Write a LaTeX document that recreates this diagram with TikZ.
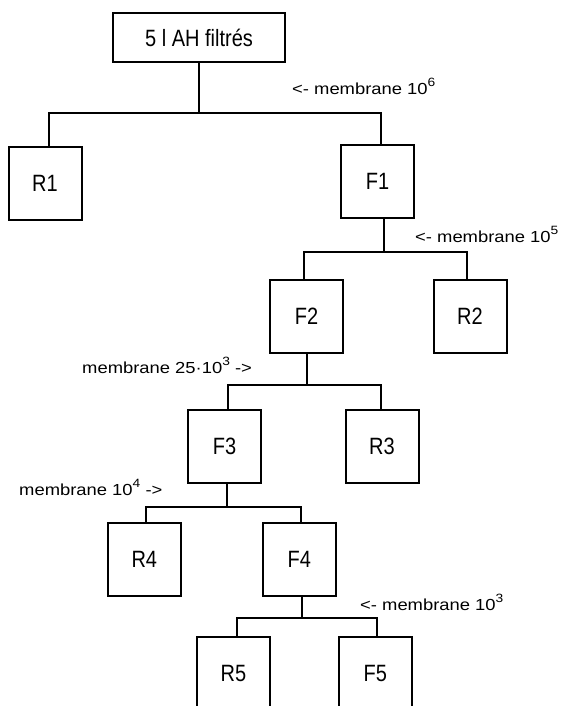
\documentclass[tikz,border=0pt]{standalone}
\usepackage{fontspec}
\usepackage{graphicx}
\setmainfont{Liberation Sans}
\newcommand{\boxtxt}[1]{\scalebox{1}[1.18]{#1}}
\newcommand{\membtxt}[1]{\scalebox{1.15}[1]{#1}}
\newcommand{\supr}[1]{\raisebox{0.5em}{\fontsize{12}{12}\selectfont #1}}
\begin{document}
\begin{tikzpicture}[x=1pt,y=-1pt,
  box/.style={draw, line width=2pt, minimum width=73pt, minimum height=73pt,
    inner sep=0pt, font=\fontsize{20}{20}\selectfont},
  memb/.style={inner sep=0pt, anchor=base west, font=\fontsize{16}{16}\selectfont},
  wire/.style={line width=2pt}]
\useasboundingbox (0,0) rectangle (565,706);
\clip (0,0) rectangle (565,706);
% boxes
\node[box, minimum width=172pt, minimum height=49pt] (top) at (199,37.5) {\boxtxt{5 l AH filtrés}};
\node[box] (R1) at (45,183) {\boxtxt{R1}};
\node[box] (F1) at (377.5,181) {\boxtxt{F1}};
\node[box] (F2) at (306.5,316.5) {\boxtxt{F2}};
\node[box] (R2) at (470,316.5) {\boxtxt{R2}};
\node[box] (F3) at (224.5,446) {\boxtxt{F3}};
\node[box] (R3) at (382,446) {\boxtxt{R3}};
\node[box] (R4) at (144.3,559.5) {\boxtxt{R4}};
\node[box] (F4) at (299.3,559.5) {\boxtxt{F4}};
\node[box] (R5) at (233.5,673.5) {\boxtxt{R5}};
\node[box] (F5) at (375.3,673.5) {\boxtxt{F5}};
% bus coordinates
\coordinate (b1l) at (49,113);  \coordinate (b1r) at (381,113);
\coordinate (d1) at (384,252);
\coordinate (b2l) at (304,252); \coordinate (b2r) at (467,252);
\coordinate (d2) at (307,385);
\coordinate (b3l) at (228,385); \coordinate (b3r) at (381,385);
\coordinate (d3) at (227,507);
\coordinate (b4l) at (146,507); \coordinate (b4r) at (300.6,507);
\coordinate (d4) at (302,618);
\coordinate (b5l) at (237,618); \coordinate (b5r) at (377,618);
% connectors
\draw[wire] (top.south) -- (top.south |- b1l);
\draw[wire] (b1l |- R1.north) -- (b1l) -- (b1r) -- (b1r |- F1.north);
\draw[wire] (d1 |- F1.south) -- (d1);
\draw[wire] (b2l |- F2.north) -- (b2l) -- (b2r) -- (b2r |- R2.north);
\draw[wire] (d2 |- F2.south) -- (d2);
\draw[wire] (b3l |- F3.north) -- (b3l) -- (b3r) -- (b3r |- R3.north);
\draw[wire] (d3 |- F3.south) -- (d3);
\draw[wire] (b4l |- R4.north) -- (b4l) -- (b4r) -- (b4r |- F4.north);
\draw[wire] (d4 |- F4.south) -- (d4);
\draw[wire] (b5l |- R5.north) -- (b5l) -- (b5r) -- (b5r |- F5.north);
% labels
\node[memb] (m6) at (292,95) {\membtxt{<- membrane 10\supr{6}}};
\node[memb] (m5) at (415,242) {\membtxt{<- membrane 10\supr{5}}};
\node[memb] (m25) at (82,373) {\membtxt{membrane 25·10\supr{3} ->}};
\node[memb] (m4) at (19,495) {\membtxt{membrane 10\supr{4} ->}};
\node[memb] (m3) at (360,610) {\membtxt{<- membrane 10\supr{3}}};
\end{tikzpicture}
\end{document}
